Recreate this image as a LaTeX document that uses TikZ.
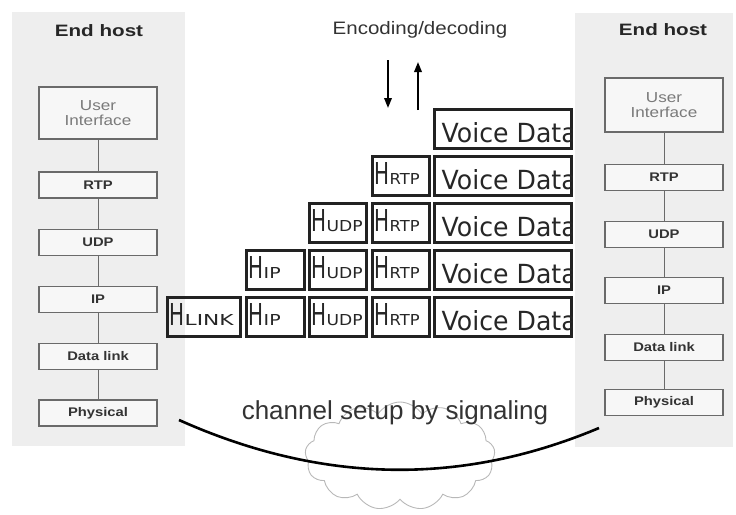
\documentclass[tikz,border=0pt]{standalone}
\usepackage{graphicx}
\usepackage{fontspec}
\setmainfont{Liberation Sans}
\newfontfamily\pktfont{DejaVu Sans}
\usetikzlibrary{arrows.meta,shapes.symbols}

\definecolor{panelgray}{HTML}{EEEEEE}
\definecolor{layerborder}{HTML}{6A6A6A}
\definecolor{layerfill}{HTML}{F7F7F7}
\definecolor{layertext}{HTML}{333333}
\definecolor{uitext}{HTML}{7A7A7A}
\definecolor{pktborder}{HTML}{222222}
\definecolor{cloudgray}{HTML}{B8B8B8}

% horizontally stretched text
\newcommand{\widetext}[2]{\scalebox{#1}[1]{#2}}
% header label: big H with a subscript set on the same baseline
\newcommand{\hdrlabel}[3]{%
  \node[pkttext] at ([xshift=3.5pt,yshift=12pt]#1.south west)
    {\pktfont\resizebox{15pt}{22pt}{H}\hspace{0.5pt}\resizebox{#2}{11pt}{#3}};}
% payload label, cut off by the right edge of its box
\newcommand{\voicelabel}[1]{%
  \begin{scope}
    \clip (#1.south west) rectangle (#1.north east);
    \node[pkttext] at ([xshift=9pt,yshift=6pt]#1.south west)
      {\pktfont\resizebox{135pt}{20pt}{Voice Data}};
  \end{scope}}

\begin{document}
\begin{tikzpicture}[x=1pt,y=-1pt,
  panel/.style={fill=panelgray,draw=none},
  hosttitle/.style={font=\fontsize{16.5}{18}\selectfont\bfseries,text=black!85},
  layer/.style={draw=layerborder,fill=layerfill,line width=1.1pt,
    minimum width=118pt,minimum height=26pt,inner sep=0pt,
    font=\fontsize{12.5}{13}\selectfont\bfseries,text=layertext},
  uilayer/.style={layer,font=\fontsize{14.5}{16}\selectfont,text=uitext,align=center},
  stackline/.style={draw=layerborder,line width=1pt},
  pkt/.style={draw=pktborder,line width=3pt,inner sep=0pt,minimum height=39pt},
  voice/.style={pkt,minimum width=137pt},
  pkttext/.style={anchor=south west,inner sep=0pt,text=black!85},
  updown/.style={line width=1.8pt,-{Triangle[length=10pt,width=7.5pt]}},
  channel/.style={line width=2.6pt,draw=black},
  cloudshape/.style={cloud,cloud puffs=13,cloud puff arc=115,draw=cloudgray,
    line width=0.9pt,minimum width=190pt,minimum height=108pt,inner sep=0pt}
]
\useasboundingbox (0,0) rectangle (736,514);

% host panels
\fill[panel] (12,12) rectangle (185,446);
\fill[panel] (575,13) rectangle (733,447);

% left protocol stack
\node[hosttitle] (lt) at (99,31) {\widetext{1.25}{End host}};
\node[uilayer,minimum height=52pt] (lui) at (98,113) {\widetext{1.18}{User}\\[-1pt]\widetext{1.18}{Interface}};
\node[layer] (lrtp) at (98,185) {\widetext{1.18}{RTP}};
\node[layer] (ludp) at (98,242.5) {\widetext{1.18}{UDP}};
\node[layer] (lip) at (98,299.5) {\widetext{1.18}{IP}};
\node[layer] (ldl) at (98,356.5) {\widetext{1.18}{Data link}};
\node[layer] (lph) at (98,413) {\widetext{1.18}{Physical}};
\draw[stackline] (lui) -- (lrtp);
\draw[stackline] (lrtp) -- (ludp);
\draw[stackline] (ludp) -- (lip);
\draw[stackline] (lip) -- (ldl);
\draw[stackline] (ldl) -- (lph);

% right protocol stack
\node[hosttitle] (rt) at (663,30) {\widetext{1.25}{End host}};
\node[uilayer,minimum height=54pt] (rui) at (664,105) {\widetext{1.18}{User}\\[-1pt]\widetext{1.18}{Interface}};
\node[layer] (rrtp) at (664,177.5) {\widetext{1.18}{RTP}};
\node[layer] (rudp) at (664,234.5) {\widetext{1.18}{UDP}};
\node[layer] (rip) at (664,290.5) {\widetext{1.18}{IP}};
\node[layer] (rdl) at (664,347.5) {\widetext{1.18}{Data link}};
\node[layer] (rph) at (664,402.5) {\widetext{1.18}{Physical}};
\draw[stackline] (rui) -- (rrtp);
\draw[stackline] (rrtp) -- (rudp);
\draw[stackline] (rudp) -- (rip);
\draw[stackline] (rip) -- (rdl);
\draw[stackline] (rdl) -- (rph);

% encoding / decoding
\node[font=\fontsize{18}{20}\selectfont,text=black!80] (enc) at (420,30) {\widetext{1.14}{Encoding/decoding}};
\coordinate (dtop) at (388,60);
\coordinate (dbot) at (388,108);
\coordinate (ubot) at (418,110);
\coordinate (utop) at (418,62);
\draw[updown] (dtop) -- (dbot);
\draw[updown] (ubot) -- (utop);

% encapsulation: one row per layer
\node[voice] (v1) at (502.5,128.5) {};

\node[pkt,minimum width=57pt] (r2) at (400.5,175.5) {};
\node[voice] (v2) at (502.5,175.5) {};

\node[pkt,minimum width=57pt] (u3) at (337.5,222.5) {};
\node[pkt,minimum width=57pt] (r3) at (400.5,222.5) {};
\node[voice] (v3) at (502.5,222.5) {};

\node[pkt,minimum width=58pt] (i4) at (275,269.5) {};
\node[pkt,minimum width=57pt] (u4) at (337.5,269.5) {};
\node[pkt,minimum width=57pt] (r4) at (400.5,269.5) {};
\node[voice] (v4) at (502.5,269.5) {};

\node[pkt,minimum width=73pt] (l5) at (203.5,316.5) {};
\node[pkt,minimum width=58pt] (i5) at (275,316.5) {};
\node[pkt,minimum width=57pt] (u5) at (337.5,316.5) {};
\node[pkt,minimum width=57pt] (r5) at (400.5,316.5) {};
\node[voice] (v5) at (502.5,316.5) {};

\voicelabel{v1}\voicelabel{v2}\voicelabel{v3}\voicelabel{v4}\voicelabel{v5}
\hdrlabel{r2}{30pt}{RTP}
\hdrlabel{u3}{36pt}{UDP}\hdrlabel{r3}{30pt}{RTP}
\hdrlabel{i4}{17pt}{IP}\hdrlabel{u4}{36pt}{UDP}\hdrlabel{r4}{30pt}{RTP}
\hdrlabel{l5}{49pt}{LINK}\hdrlabel{i5}{17pt}{IP}\hdrlabel{u5}{36pt}{UDP}\hdrlabel{r5}{30pt}{RTP}

% signaling channel
\node[cloudshape] (net) at (400,456) {};
\node[font=\fontsize{26}{28}\selectfont,text=black!80] (sig) at (395,413) {channel setup by signaling};
\coordinate (chl) at (179,420);
\coordinate (chr) at (599,428);
\draw[channel] (chl) .. controls (340,492) and (480,478) .. (chr);
\end{tikzpicture}
\end{document}
